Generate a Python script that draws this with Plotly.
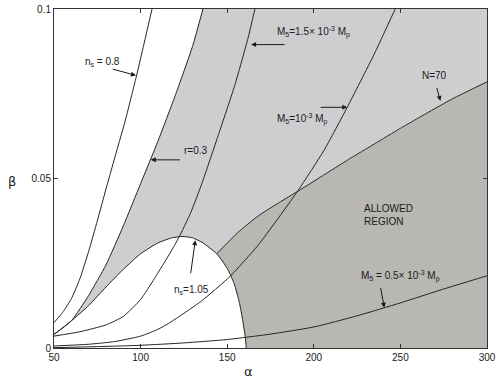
import plotly.graph_objects as go

# curve data: alpha (x) and beta (y)
alpha_ns08 = [50, 55, 60, 65, 70, 75, 80.5, 86, 91, 97.5, 102, 106.6]
beta_ns08 = [0.0075, 0.0105, 0.0145, 0.0205, 0.0285, 0.0375, 0.0478, 0.0578, 0.0668, 0.08, 0.0898, 0.1]

alpha_r03 = [50, 60, 70, 80, 90, 100, 110, 120, 130, 136]
beta_r03 = [0.004, 0.008, 0.0155, 0.0245, 0.036, 0.0485, 0.061, 0.0745, 0.089, 0.1]

alpha_m15 = [50, 65, 80, 90, 100, 108, 117, 122, 129, 135.5, 145, 154.5, 162, 166]
beta_m15 = [0.0035, 0.0048, 0.0068, 0.0093, 0.0143, 0.0205, 0.028, 0.0325, 0.04, 0.0487, 0.063, 0.0777, 0.0914, 0.1]

alpha_m10 = [50, 70, 85, 100, 110, 116, 122, 135, 151.6, 167.8, 190.7, 206, 219.3, 234.6, 247]
beta_m10 = [0.0006, 0.0011, 0.0019, 0.0035, 0.0055, 0.0072, 0.0092, 0.0138, 0.0211, 0.0303, 0.0463, 0.0584, 0.071, 0.0864, 0.1]

alpha_m05 = [50, 75, 100, 125, 150, 175, 200, 225, 250, 275, 300]
beta_m05 = [0.0001, 0.0004, 0.0008, 0.0015, 0.0025, 0.0041, 0.0062, 0.0095, 0.0133, 0.0174, 0.0213]

alpha_n70 = [144, 156, 168, 180, 191, 205, 220, 235, 250, 265, 280, 300]
beta_n70 = [0.0278, 0.034, 0.039, 0.0429, 0.0463, 0.0508, 0.0556, 0.0602, 0.0648, 0.0692, 0.0735, 0.0785]

alpha_ns105 = [50, 60, 70, 80, 90, 100, 110, 118, 124, 130, 136, 144, 150, 154, 157, 159, 160.5, 161]
beta_ns105 = [0.004, 0.008, 0.0125, 0.018, 0.0232, 0.0278, 0.031, 0.0325, 0.0329, 0.0325, 0.031, 0.0278, 0.0235, 0.019, 0.0135, 0.008, 0.003, 0]

LIGHT = "rgb(206,206,209)"
DARK = "rgb(184,183,178)"
LINE = "#262626"

fig = go.Figure()

# light grey region: right of r=0.3, above n_s=1.05 and N=70
r_part = [(a, b) for a, b in zip(alpha_r03, beta_r03) if a >= 60]
dome_left = [(a, b) for a, b in zip(alpha_ns105, beta_ns105) if 60 <= a <= 144]
light_x = [p[0] for p in r_part] + [300] + alpha_n70[::-1] + [p[0] for p in dome_left][::-1]
light_y = [p[1] for p in r_part] + [0.1] + beta_n70[::-1] + [p[1] for p in dome_left][::-1]
fig.add_trace(go.Scatter(x=light_x, y=light_y, fill="toself", fillcolor=LIGHT,
                         mode="lines", line=dict(width=0), hoverinfo="skip"))

# allowed region: below N=70, right of n_s=1.05
dome_right = [(a, b) for a, b in zip(alpha_ns105, beta_ns105) if a >= 144]
dark_x = alpha_n70 + [300] + [p[0] for p in dome_right][::-1]
dark_y = beta_n70 + [0] + [p[1] for p in dome_right][::-1]
fig.add_trace(go.Scatter(x=dark_x, y=dark_y, fill="toself", fillcolor=DARK,
                         mode="lines", line=dict(width=0), hoverinfo="skip"))

for xs, ys in [(alpha_ns08, beta_ns08), (alpha_r03, beta_r03), (alpha_m15, beta_m15),
               (alpha_m10, beta_m10), (alpha_m05, beta_m05), (alpha_n70, beta_n70),
               (alpha_ns105, beta_ns105)]:
    fig.add_trace(go.Scatter(x=xs, y=ys, mode="lines",
                             line=dict(color=LINE, width=1, shape="spline", smoothing=0.5),
                             hoverinfo="skip"))

font = dict(family="Liberation Sans, Arial, sans-serif", size=10, color="#1a1a1a")

# (text, text x, text y, anchor, tail x, tail y, tip x, tip y)
labels = [
    ("n<sub>s</sub> = 0.8", 66.6, 0.0845, "left", 83.0, 0.0824, 97.3, 0.0804),
    ("r=0.3", 123.8, 0.0582, "left", 123.6, 0.0555, 105.9, 0.0555),
    ("M<sub>5</sub>=1.5\u00d7 10<sup>-3</sup> M<sub>p</sub>", 177.4, 0.0932, "left", 184.0, 0.0895, 163.8, 0.0895),
    ("M<sub>5</sub>=10<sup>-3</sup> M<sub>p</sub>", 177.4, 0.0677, "left", 203.1, 0.071, 219.3, 0.071),
    ("N=70", 269.7, 0.0803, "center", 270.8, 0.0771, 273.1, 0.0729),
    ("M<sub>5</sub> = 0.5\u00d7 10<sup>-3</sup> M<sub>p</sub>", 226.0, 0.0212, "left", 238.4, 0.0182, 240.7, 0.0119),
    ("n<sub>s</sub>=1.05", 118.3, 0.0172, "left", 128.8, 0.0216, 131.6, 0.0318),
]
for text, tx, ty, anc, ax, ay, hx, hy in labels:
    fig.add_annotation(x=tx, y=ty, text=text, showarrow=False, xanchor=anc,
                       yanchor="middle", font=font)
    fig.add_annotation(x=hx, y=hy, ax=ax, ay=ay, axref="x", ayref="y", text="",
                       showarrow=True, arrowhead=2, arrowsize=1, arrowwidth=1,
                       arrowcolor="#1a1a1a")

fig.add_annotation(x=227.9, y=0.0393, text="ALLOWED<br>REGION", showarrow=False,
                   xanchor="left", yanchor="middle", align="left", font=font)

fig.add_annotation(x=0.4485, y=-0.07, xref="paper", yref="paper", text="\u03b1",
                   xanchor="center", yanchor="middle", showarrow=False,
                   font=dict(family="DejaVu Sans, sans-serif", size=13, color="#1a1a1a"))
fig.add_annotation(x=-0.096, y=0.49, xref="paper", yref="paper", text="\u03b2",
                   xanchor="center", yanchor="middle", showarrow=False,
                   font=dict(family="DejaVu Sans, sans-serif", size=13, color="#1a1a1a"))

axis = dict(showgrid=False, zeroline=False, showline=True, linecolor="#333", linewidth=1,
            mirror="ticks", ticks="inside", ticklen=4, tickcolor="#333",
            ticklabeloverflow="allow",
            tickfont=dict(family="Liberation Sans, Arial, sans-serif", size=10, color="#1a1a1a"))
fig.update_xaxes(range=[50, 300], tickvals=[50, 100, 150, 200, 250, 300], **axis)
fig.update_yaxes(range=[0, 0.1], tickvals=[0, 0.05, 0.1], ticktext=["0", "0.05", "0.1"], **axis)

fig.update_layout(width=499, height=382, showlegend=False,
                  margin=dict(l=54, r=8, t=3, b=34),
                  paper_bgcolor="white", plot_bgcolor="white")
fig.write_html("out.html", config={"displayModeBar": False},
               post_script="document.body.style.margin='0';")
